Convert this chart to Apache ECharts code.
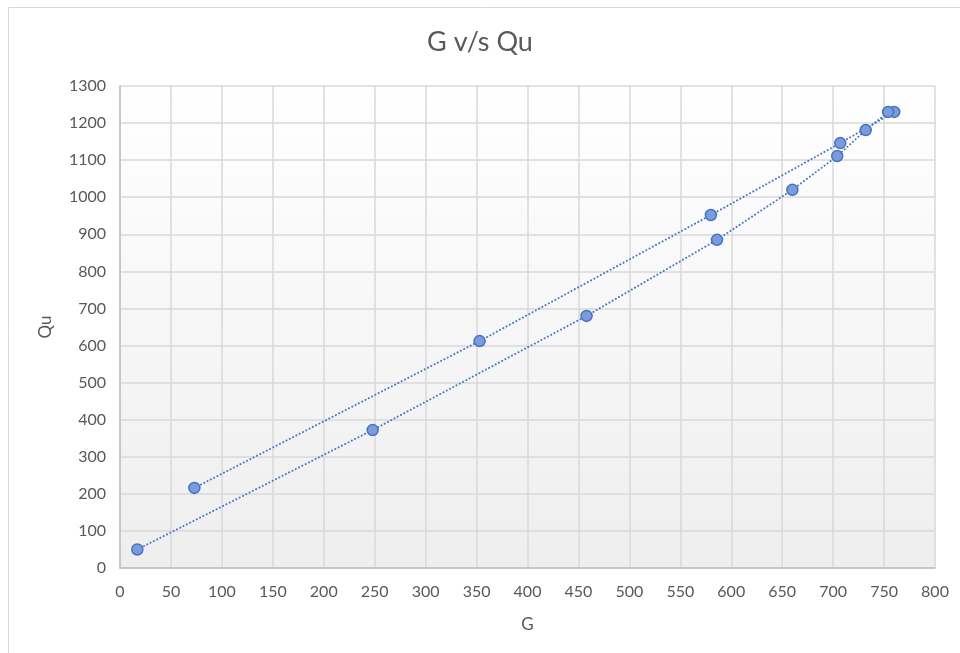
<!DOCTYPE html>
<html><head><meta charset="utf-8">
<script src="https://cdn.jsdelivr.net/npm/echarts@6/dist/echarts.min.js"></script>
<style>html,body{margin:0;padding:0;background:#fff}#c{width:960px;height:653px}</style>
</head><body><div id="c"></div>
<script>
const title = "G v/s Qu";
const xName = "G";
const yName = "Qu";
// Series A (upper line)
const gA = [73, 353, 580, 707, 760];
const quA = [216, 612, 952, 1146, 1230];
// Series B (lower line)
const gB = [17, 248, 458, 586, 660, 704, 732, 754];
const quB = [50, 372, 680, 885, 1020, 1111, 1181, 1230];

function pairs(xs, ys){ return xs.map((x,i)=>[x, ys[i]]); }
const font = "Lato";
const chart = echarts.init(document.getElementById('c'), null, {renderer:'canvas'});
const ptStyle = {color:'#7B9BDB', borderColor:'#4472C4', borderWidth:1.5};
const lnStyle = {color:'#4A76C6', width:2, type:[0.1,3.6], cap:'round'};
function ser(xs, ys){
  return {type:'line', data:pairs(xs,ys), symbol:'circle', symbolSize:11, showSymbol:true,
    itemStyle:ptStyle, lineStyle:lnStyle, z:3};
}
chart.setOption({
  animation:false,
  backgroundColor:'#fff',
  graphic:[{type:'rect', shape:{x:8.5,y:7.5,width:1000,height:700}, style:{fill:'none', stroke:'#d9d9d9', lineWidth:1}, silent:true}],
  title:{text:title, left:'center', top:24, textStyle:{fontFamily:font, fontSize:27, fontWeight:'normal', color:'#595959'}},
  grid:{left:120, right:25, top:86, bottom:85, show:true, borderWidth:0,
    backgroundColor:new echarts.graphic.LinearGradient(0,0,0,1,[{offset:0,color:'#ffffff'},{offset:1,color:'#eeeeee'}])},
  xAxis:{type:'value', min:0, max:800, interval:50, name:xName, nameLocation:'middle', nameGap:48,
    nameTextStyle:{fontFamily:font, fontSize:17, color:'#595959'},
    axisLine:{show:true, lineStyle:{color:'#bfbfbf', width:1.5}}, axisTick:{show:false},
    axisLabel:{fontFamily:font, fontSize:16, color:'#595959', margin:16, formatter:v=>String(v)},
    splitLine:{show:true, lineStyle:{color:'#d9d9d9', width:1.5}}},
  yAxis:{type:'value', min:0, max:1300, interval:100, name:yName, nameLocation:'middle', nameGap:66, nameRotate:90,
    nameTextStyle:{fontFamily:font, fontSize:17, color:'#595959'},
    axisLine:{show:true, lineStyle:{color:'#bfbfbf', width:1.5}}, axisTick:{show:false},
    axisLabel:{fontFamily:font, fontSize:16, color:'#595959', margin:14, formatter:v=>String(v)},
    splitLine:{show:true, lineStyle:{color:'#d9d9d9', width:1.5}}},
  series:[ ser(gA,quA), ser(gB,quB) ]
});
</script></body></html>
